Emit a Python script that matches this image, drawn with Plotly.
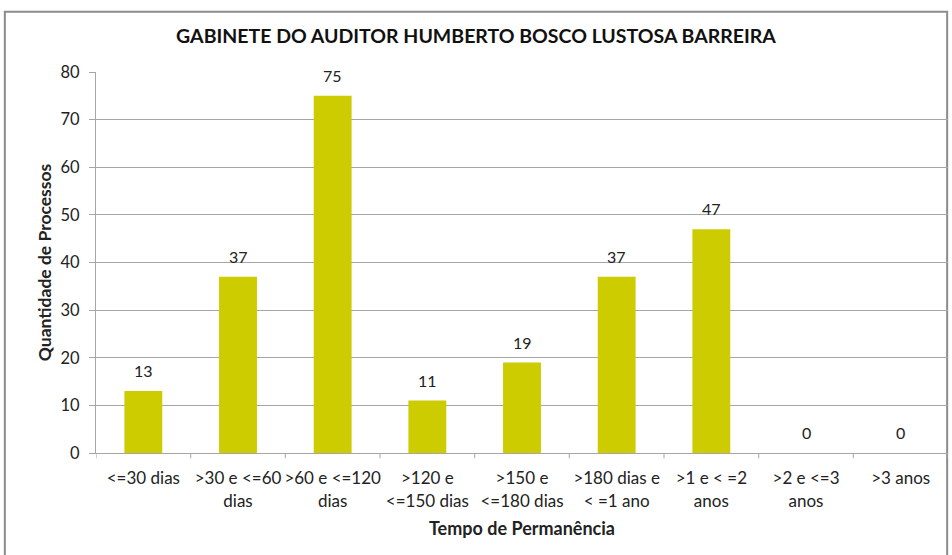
import plotly.graph_objects as go

# Data
categories = [
    "<=30 dias", ">30 e <=60<br>dias", ">60 e <=120<br>dias", ">120 e<br><=150 dias",
    ">150 e<br><=180 dias", ">180 dias e<br>< =1 ano", ">1 e < =2<br>anos",
    ">2 e <=3<br>anos", ">3 anos",
]
quantities = [13, 37, 75, 11, 19, 37, 47, 0, 0]
y_ticks = [0, 10, 20, 30, 40, 50, 60, 70, 80]

FONT = "Lato"
BAR = "#CCCC00"
GRID = "#A6A6A6"
FRAME = "#8C8C8C"

fig = go.Figure()
fig.add_trace(go.Bar(
    x=list(range(len(categories))),
    y=quantities,
    marker=dict(color=BAR, line=dict(width=0)),
    width=0.4,
    hoverinfo="x+y",
))

# value labels above the bars
for i, v in enumerate(quantities):
    fig.add_annotation(x=i, y=v, text=str(v), showarrow=False,
                       yanchor="bottom", yshift=9,
                       font=dict(family=FONT, size=16, color="#222222"))

fig.update_layout(
    width=952, height=555,
    margin=dict(l=96, r=4, t=72, b=102),
    paper_bgcolor="white", plot_bgcolor="white",
    showlegend=False,
    font=dict(family=FONT, size=16, color="#222222"),
    title=dict(
        text="<b>GABINETE DO AUDITOR HUMBERTO BOSCO LUSTOSA BARREIRA</b>",
        x=0.5, xanchor="center", y=0.935, yanchor="middle",
        font=dict(family=FONT, size=19.5, color="#111111"),
    ),
)

# outer chart frame (left and top edges visible)
fig.add_shape(type="rect", xref="paper", yref="paper",
              x0=-0.107, x1=0.999, y0=-0.3, y1=1.158,
              line=dict(color=FRAME, width=2), fillcolor="rgba(0,0,0,0)",
              layer="below")

fig.update_xaxes(
    tickmode="array",
    tickvals=list(range(len(categories))),
    ticktext=categories,
    range=[-0.5, len(categories) - 0.5],
    showline=True, linecolor=GRID, linewidth=1,
    ticks="", showgrid=False, automargin=False,
    ticklabelstandoff=10,
    tickfont=dict(family=FONT, size=17),
    title=dict(text="<b>Tempo de Permanência</b>", font=dict(family=FONT, size=18), standoff=12),
)

# tick marks between categories
for i in range(len(categories) + 1):
    fig.add_shape(type="line", xref="x", yref="paper",
                  x0=i - 0.5, x1=i - 0.5, y0=0, y1=-0.014,
                  line=dict(color=GRID, width=1))

fig.update_yaxes(
    range=[0, 80],
    tickmode="array", tickvals=y_ticks,
    showline=True, linecolor=GRID, linewidth=1,
    ticks="outside", ticklen=6, tickcolor=GRID,
    showgrid=True, gridcolor=GRID, gridwidth=1,
    zeroline=False, automargin=False,
    ticklabelstandoff=6,
    tickfont=dict(family=FONT, size=16.5),
    title=dict(text="<b>Quantidade de Processos</b>", font=dict(family=FONT, size=17.5), standoff=4),
)

fig.write_html("out.html", config={"displayModeBar": False},
               post_script="document.body.style.margin='0';")
